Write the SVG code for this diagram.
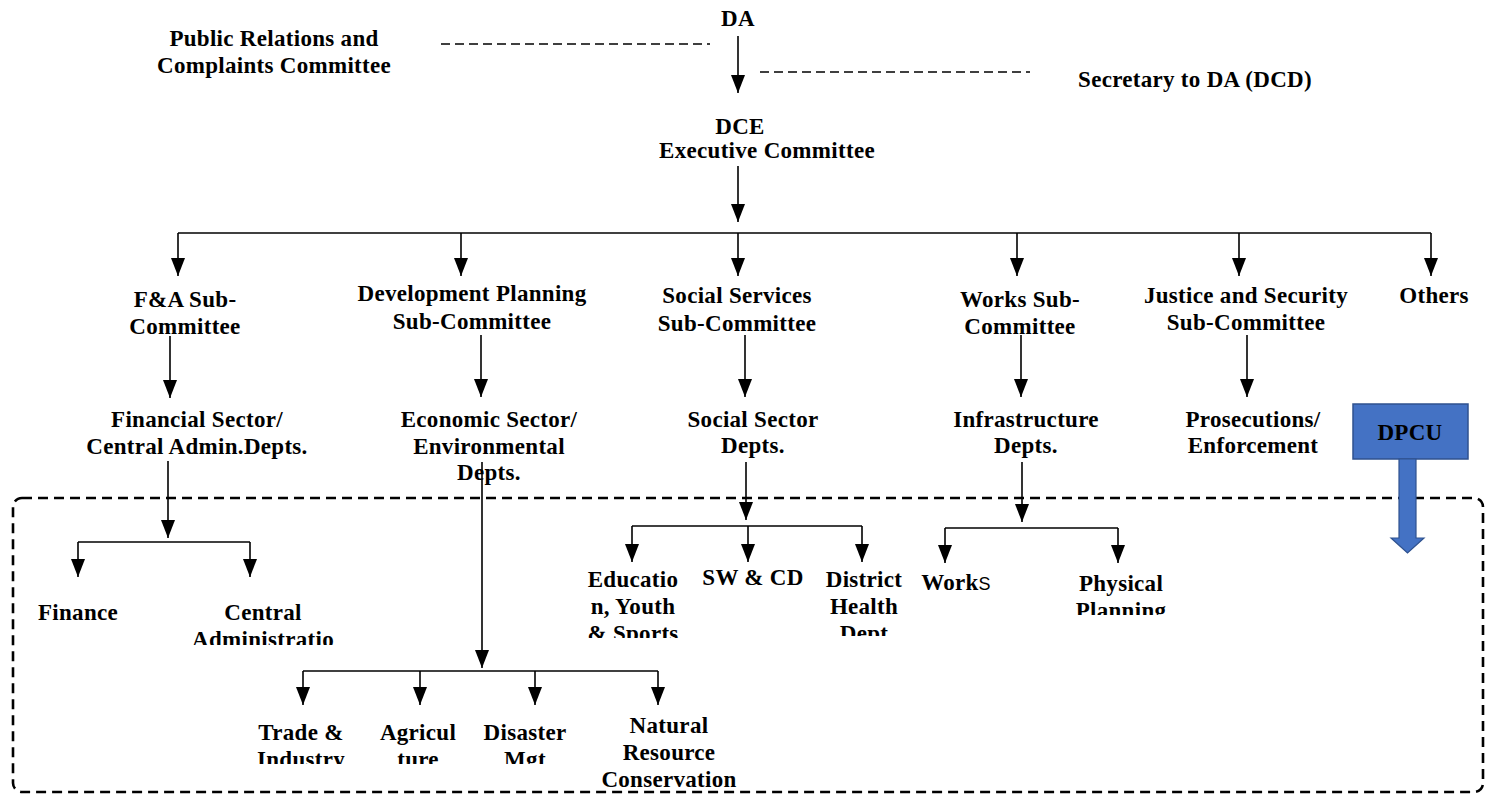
<svg xmlns="http://www.w3.org/2000/svg" width="1486" height="794" viewBox="0 0 1486 794">
<style>
  text { font-family: "Liberation Serif", "Times New Roman", serif; font-weight: bold; font-size: 23px; letter-spacing: 0.3px; fill: #000; text-anchor: middle; }
  .ln { stroke: #000; stroke-width: 1.6; fill: none; }
  .ar { stroke: #000; stroke-width: 1.6; fill: none; marker-end: url(#ah); }
  .dash { stroke: #000; stroke-width: 1.4; stroke-dasharray: 9 5; fill: none; }
  .frame { stroke: #000; stroke-width: 2.6; stroke-dasharray: 10 6; fill: none; }
  .sans { font-family: "Liberation Sans", Arial, sans-serif; font-weight: normal; font-size: 18px; }
</style>
<defs>
  <marker id="ah" markerUnits="userSpaceOnUse" markerWidth="18" markerHeight="14" refX="18" refY="7" orient="auto">
    <path d="M0,0 L18,7 L0,14 z" fill="#000"/>
  </marker>
  <clipPath id="cAdmin"><rect x="150" y="600" width="240" height="45"/></clipPath>
  <clipPath id="cEdu"><rect x="560" y="560" width="145" height="78"/></clipPath>
  <clipPath id="cHealth"><rect x="800" y="560" width="130" height="76"/></clipPath>
  <clipPath id="cPhys"><rect x="1050" y="560" width="150" height="55"/></clipPath>
  <clipPath id="cRow3"><rect x="240" y="710" width="360" height="54"/></clipPath>
</defs>
<rect width="1486" height="794" fill="#fff"/>

<rect class="frame" x="13" y="498" width="1470" height="294" rx="9" ry="9"/>

<g id="connectors">
  <path class="dash" d="M441,44 H710"/>
  <path class="dash" d="M760,72 H1030"/>
  <path class="ar" d="M738,36 V93"/>
  <path class="ar" d="M738,166 V222"/>
  <path class="ln" d="M178,233 H1431"/>
  <path class="ar" d="M178,233 V276"/>
  <path class="ar" d="M461,233 V276"/>
  <path class="ar" d="M738,233 V276"/>
  <path class="ar" d="M1017,233 V276"/>
  <path class="ar" d="M1239,233 V276"/>
  <path class="ar" d="M1431,233 V276"/>
  <path class="ar" d="M170,336 V398"/>
  <path class="ar" d="M481,335 V397"/>
  <path class="ar" d="M745,335 V397"/>
  <path class="ar" d="M1021,335 V397"/>
  <path class="ar" d="M1247,335 V397"/>
  <path class="ar" d="M168,461 V538"/>
  <path class="ln" d="M78,542 H250"/>
  <path class="ar" d="M78,542 V577"/>
  <path class="ar" d="M250,542 V577"/>
  <path class="ar" d="M482,462 V668"/>
  <path class="ln" d="M303,671 H658"/>
  <path class="ar" d="M303,671 V705"/>
  <path class="ar" d="M420,671 V705"/>
  <path class="ar" d="M535,671 V705"/>
  <path class="ar" d="M658,671 V705"/>
  <path class="ar" d="M746,462 V520"/>
  <path class="ln" d="M632,526 H862"/>
  <path class="ar" d="M632,526 V562"/>
  <path class="ar" d="M748,526 V562"/>
  <path class="ar" d="M862,526 V562"/>
  <path class="ar" d="M1022,462 V522"/>
  <path class="ln" d="M945,528 H1118"/>
  <path class="ar" d="M945,528 V563"/>
  <path class="ar" d="M1118,528 V563"/>
</g>

<g id="da"><text x="738" y="26">DA</text></g>
<g id="prcc"><text x="274" y="46">Public Relations and</text><text x="274" y="73">Complaints Committee</text></g>
<g id="secretary"><text x="1195" y="87">Secretary to DA (DCD)</text></g>
<g id="dce"><text x="740" y="134">DCE</text><text x="767" y="158">Executive Committee</text></g>

<g id="fa-sub"><text x="185" y="307">F&amp;A Sub-</text><text x="185" y="334">Committee</text></g>
<g id="dev-sub"><text x="472" y="301">Development Planning</text><text x="472" y="329">Sub-Committee</text></g>
<g id="soc-sub"><text x="737" y="303">Social Services</text><text x="737" y="331">Sub-Committee</text></g>
<g id="works-sub"><text x="1020" y="307">Works Sub-</text><text x="1020" y="334">Committee</text></g>
<g id="justice-sub"><text x="1246" y="303">Justice and Security</text><text x="1246" y="330">Sub-Committee</text></g>
<g id="others"><text x="1434" y="303">Others</text></g>

<g id="financial"><text x="197" y="427">Financial Sector/</text><text x="197" y="454">Central Admin.Depts.</text></g>
<g id="economic"><text x="489" y="427">Economic Sector/</text><text x="489" y="454">Environmental</text><text x="489" y="480">Depts.</text></g>
<g id="social"><text x="753" y="427">Social Sector</text><text x="753" y="453">Depts.</text></g>
<g id="infra"><text x="1026" y="427">Infrastructure</text><text x="1026" y="453">Depts.</text></g>
<g id="prosec"><text x="1253" y="427">Prosecutions/</text><text x="1253" y="453">Enforcement</text></g>

<g id="dpcu">
  <rect x="1353" y="404" width="115" height="55" fill="#4472C4" stroke="#2F528F" stroke-width="1.5"/>
  <text x="1410" y="440">DPCU</text>
  <path d="M1399,459 H1416 V538 H1424 L1407.5,553 L1391,538 H1399 Z" fill="#4472C4" stroke="#2F528F" stroke-width="1.2"/>
</g>

<g id="finance"><text x="78" y="620">Finance</text></g>
<g id="central-admin" clip-path="url(#cAdmin)"><text x="263" y="620">Central</text><text x="263" y="647">Administratio</text></g>

<g id="education" clip-path="url(#cEdu)"><text x="633" y="587">Educatio</text><text x="633" y="614">n, Youth</text><text x="633" y="641">&amp; Sports</text></g>
<g id="swcd"><text x="753" y="585">SW &amp; CD</text></g>
<g id="health" clip-path="url(#cHealth)"><text x="864" y="587">District</text><text x="864" y="614">Health</text><text x="864" y="641">Dept</text></g>
<g id="works"><text x="956" y="590">Work<tspan class="sans">S</tspan></text></g>
<g id="physical" clip-path="url(#cPhys)"><text x="1121" y="591">Physical</text><text x="1121" y="618">Planning</text></g>

<g id="trade" clip-path="url(#cRow3)"><text x="301" y="740">Trade &amp;</text><text x="301" y="767">Industry</text></g>
<g id="agri" clip-path="url(#cRow3)"><text x="418" y="740">Agricul</text><text x="418" y="767">ture</text></g>
<g id="disaster" clip-path="url(#cRow3)"><text x="525" y="740">Disaster</text><text x="525" y="767">Mgt</text></g>
<g id="nrc"><text x="669" y="733">Natural</text><text x="669" y="760">Resource</text><text x="669" y="787">Conservation</text></g>
</svg>
